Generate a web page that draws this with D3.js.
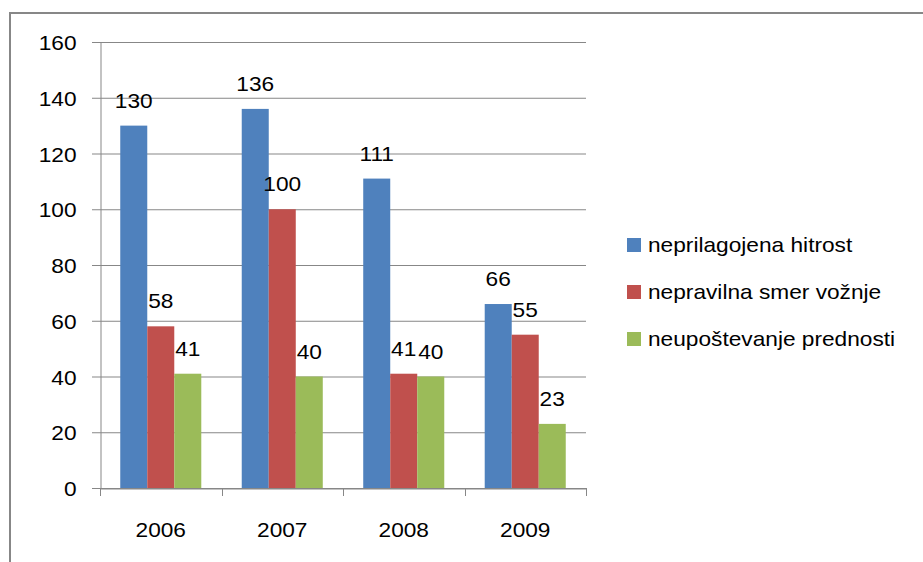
<!DOCTYPE html>
<html><head><meta charset="utf-8">
<script src="https://cdn.jsdelivr.net/npm/d3@7"></script>
<style>
html,body{margin:0;padding:0;background:#fff;}
svg{display:block;font-family:"Liberation Sans",Arial,sans-serif;}
</style></head>
<body><svg id="c" width="923" height="562"></svg>
<script>
const categories = ["2006","2007","2008","2009"];
const seriesNames = ["neprilagojena hitrost","nepravilna smer vožnje","neupoštevanje prednosti"];
const hitrost = [130,136,111,66];
const smer = [58,100,41,55];
const prednost = [41,40,40,23];
const yTicks = [0,20,40,60,80,100,120,140,160];
const colors = ["#4F81BD","#C0504D","#9BBB59"];

const seriesValues = [hitrost, smer, prednost];
const svg = d3.select("#c");
const pLeft = 100, pRight = 586, pTop = 42, pBottom = 488;
const FS = 21, STRETCH = 1.08;

function stretch(sel){
  sel.each(function(){
    const w = this.getComputedTextLength();
    d3.select(this).attr("textLength", w*STRETCH).attr("lengthAdjust","spacingAndGlyphs");
  });
}

// outer frame
svg.append("rect").attr("x",10).attr("y",13).attr("width",940).attr("height",600)
  .attr("fill","none").attr("stroke","#878787").attr("stroke-width",2);

const x = d3.scaleBand().domain(categories).range([pLeft,pRight]).paddingInner(0.333).paddingOuter(0.1667);
const x0 = d3.scaleBand().domain(categories).range([pLeft,pRight]);
const xs = d3.scaleBand().domain(d3.range(3)).range([0,x.bandwidth()]);
const y = d3.scaleLinear().domain([0,160]).range([pBottom,pTop]);

// gridlines
svg.append("g").selectAll("line").data(yTicks).join("line")
  .attr("x1",pLeft-8).attr("x2",pRight).attr("y1",d=>y(d)+0.5).attr("y2",d=>y(d)+0.5)
  .attr("stroke","#878787").attr("stroke-width",1);

// y axis
const yAxis = d3.axisLeft(y).tickValues(yTicks).tickSize(0).tickPadding(24);
const gy = svg.append("g").attr("transform",`translate(${pLeft+0.5},0)`).call(yAxis);
gy.select(".domain").attr("stroke","#878787");
gy.selectAll("text").attr("font-size",FS).attr("fill","#000").attr("dy","0.36em")
  .attr("font-family","'Liberation Sans',Arial,sans-serif").call(stretch);

// bars
categories.forEach((c,i)=>{
  seriesValues.forEach((vals,s)=>{
    const bx = x(c)+xs(s);
    svg.append("rect").attr("x",bx).attr("y",y(vals[i])).attr("width",xs.bandwidth())
      .attr("height",y(0)-y(vals[i])).attr("fill",colors[s]);
    svg.append("text").attr("x",bx+xs.bandwidth()/2).attr("y",y(vals[i])-18)
      .attr("text-anchor","middle").attr("font-size",FS).attr("fill","#000").text(vals[i]).call(stretch);
  });
});

// x axis
const xAxis = d3.axisBottom(x0).tickSize(0);
const gx = svg.append("g").attr("transform",`translate(0,${pBottom+0.5})`).call(xAxis);
gx.select(".domain").attr("stroke","#878787");
gx.selectAll("text").attr("font-size",FS).attr("fill","#000").attr("y",48).attr("dy",0)
  .attr("font-family","'Liberation Sans',Arial,sans-serif").call(stretch);
const xTickPos = categories.map(c=>x0(c)).concat([pRight]);
svg.append("g").selectAll("line").data(xTickPos).join("line")
  .attr("x1",d=>Math.round(d)+0.5).attr("x2",d=>Math.round(d)+0.5)
  .attr("y1",pBottom).attr("y2",pBottom+8).attr("stroke","#878787");

// legend
const lg = svg.append("g");
seriesNames.forEach((n,i)=>{
  const cy = 245 + i*47;
  lg.append("rect").attr("x",627).attr("y",cy-7).attr("width",14).attr("height",14).attr("fill",colors[i]);
  lg.append("text").attr("x",648).attr("y",cy+7).attr("font-size",FS)
    .attr("fill","#000").text(n).call(stretch);
});
</script></body></html>
